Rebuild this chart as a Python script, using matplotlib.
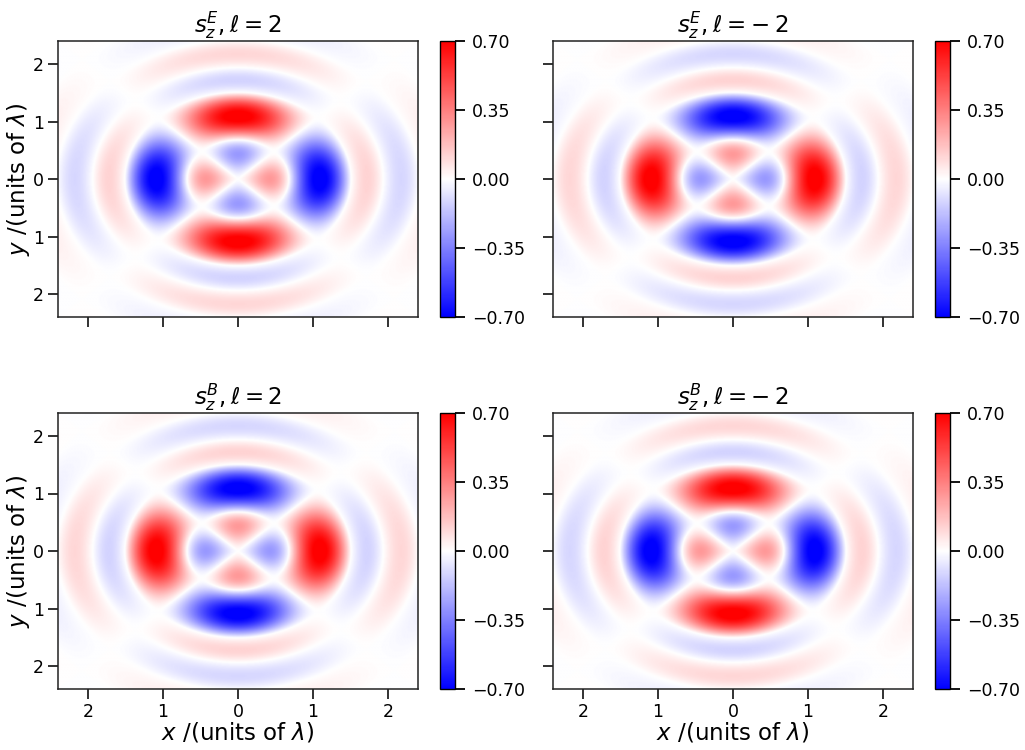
import numpy as np
import matplotlib
matplotlib.use("Agg")
import matplotlib.pyplot as plt
from matplotlib.ticker import FixedFormatter

# ---- data ----
# radial nodes (units of lambda) and lobe amplitudes between consecutive nodes
node_radii = [0.0, 0.68, 1.51, 1.94, 2.42, 2.95, 3.45]
lobe_amplitudes = [0.28, -0.74, 0.12, -0.11, 0.06, -0.04]
lobe_shape = [1.5, 1.0, 1.0, 1.0, 1.0, 1.0]
panel_titles = [r"$s_z^E, \ell = 2$", r"$s_z^E, \ell = -\: 2$",
                r"$s_z^B, \ell = 2$", r"$s_z^B, \ell = -\: 2$"]
panel_signs = [1, -1, -1, 1]
tick_values = [-2, -1, 0, 1, 2]
tick_labels = ["2", "1", "0", "1", "2"]
cbar_ticks = [-0.70, -0.35, 0.00, 0.35, 0.70]
cbar_labels = ["\u22120.70", "\u22120.35", "0.00", "0.35", "0.70"]
vmin, vmax = -0.70, 0.70
extent_lim = 2.4

# ---- build the field ----
n = 600
xs = np.linspace(-extent_lim, extent_lim, n)
X, Y = np.meshgrid(xs, xs)
R = np.hypot(X, Y)
PHI = np.arctan2(Y, X)
radial = np.zeros_like(R)
for i, amp in enumerate(lobe_amplitudes):
    r0, r1 = node_radii[i], node_radii[i + 1]
    m = (R >= r0) & (R < r1)
    u = ((R[m] - r0) / (r1 - r0)) ** lobe_shape[i]
    radial[m] = amp * np.sin(np.pi * u)
field = np.cos(2 * PHI) * radial

fig = plt.figure(figsize=(10.25, 7.5), dpi=100)
W, H = 1025.0, 750.0
ax_boxes = [(58, 41), (553, 41), (58, 413), (553, 413)]
aw, ah = 360, 276
cax_dx = 382
cw = 15

for k in range(4):
    lx, ty = ax_boxes[k]
    ax = fig.add_axes([lx / W, 1 - (ty + ah) / H, aw / W, ah / H])
    im = ax.imshow(panel_signs[k] * field, cmap="bwr", vmin=vmin, vmax=vmax,
                   extent=[-extent_lim, extent_lim, -extent_lim, extent_lim],
                   origin="lower", aspect="auto", interpolation="bilinear")
    ax.set_xlim(-extent_lim, extent_lim)
    ax.set_ylim(-extent_lim, extent_lim)
    ax.set_xticks(tick_values)
    ax.set_yticks(tick_values)
    row, col = divmod(k, 2)
    if row == 1:
        ax.set_xticklabels(tick_labels)
        ax.set_xlabel(r"$x$ /(units of $\lambda$)", fontsize=16.5, labelpad=0)
    else:
        ax.set_xticklabels([])
    if col == 0:
        ax.set_yticklabels(tick_labels)
        ax.set_ylabel(r"$y$ /(units of $\lambda$)", fontsize=16.5, labelpad=1)
    else:
        ax.set_yticklabels([])
    ax.tick_params(length=7, width=1.3, labelsize=12.5, pad=3, color="#222222")
    for sp in ax.spines.values():
        sp.set_linewidth(1.1)
        sp.set_color("#222222")
    ax.set_title(panel_titles[k], fontsize=16.5, pad=6)

    cax = fig.add_axes([(lx + cax_dx) / W, 1 - (ty + ah) / H, cw / W, ah / H])
    cb = fig.colorbar(im, cax=cax, ticks=cbar_ticks)
    cb.ax.yaxis.set_major_formatter(FixedFormatter(cbar_labels))
    cb.ax.tick_params(length=7, width=1.3, labelsize=12.5, pad=5)
    cb.outline.set_linewidth(1.0)

fig.savefig("out.png", dpi=100)
